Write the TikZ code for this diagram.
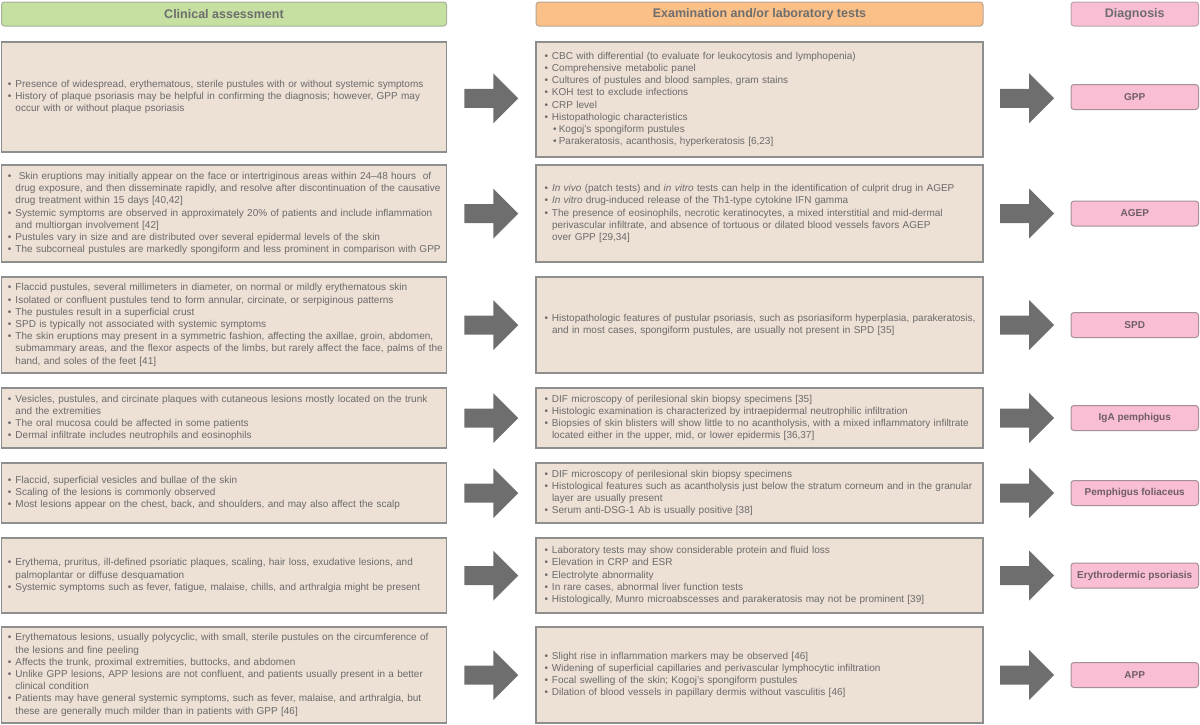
\documentclass[tikz,border=0pt]{standalone}
\usepackage{fontspec}
\setmainfont{Liberation Sans}
\usetikzlibrary{calc}

\definecolor{boxfill}{HTML}{EDE0D4}
\definecolor{boxline}{HTML}{8E8E8E}
\definecolor{txtgray}{HTML}{6B6B6B}
\definecolor{headtxt}{HTML}{6E6E6E}
\definecolor{headgreen}{HTML}{C5E0A0}
\definecolor{headorange}{HTML}{FBC087}
\definecolor{diagpink}{HTML}{F9BDD4}
\definecolor{diagtxt}{HTML}{6E5E66}
\definecolor{arrowgray}{HTML}{6E6E6E}

% bullets with manual line breaks
\newlength\bulind
\newcommand\bl{\hspace*{\bulind}\makebox[7.5pt][l]{•}}
\newcommand\ind{\hspace*{\bulind}\hspace*{7.5pt}}
\newcommand\sbl{\hspace*{\bulind}\hspace*{8.7pt}\makebox[5.6pt][l]{•}}

\tikzset{
  headbox/.style={fill=#1, draw=#1!55!black!60, rounded corners=3pt, line width=1pt,
    minimum height=24pt, inner sep=0pt, text=headtxt,
    font=\fontsize{12.5}{15}\selectfont\bfseries},
  infobox/.style={fill=boxfill, draw=boxline, line width=1.2pt, inner xsep=2pt,
    inner ysep=2pt, align=left, text=txtgray, font=\fontsize{10}{12.2}\selectfont},
  leftbox/.style={infobox, text width=441pt, execute at begin node={\setlength\bulind{4.5pt}}},
  midbox/.style={infobox, text width=443pt, execute at begin node={\setlength\bulind{6.5pt}}},
  diagbox/.style={fill=diagpink, draw=diagpink!50!black!70, rounded corners=3pt, line width=1pt,
    minimum width=127.5pt, minimum height=25pt, inner sep=0pt, text=diagtxt,
    font=\fontsize{10}{12}\selectfont\bfseries},
  fatarrow/.pic={\fill[arrowgray] (-27,-9.5) -- (2,-9.5) -- (2,-25) -- (27,0) -- (2,25)
    -- (2,9.5) -- (-27,9.5) -- cycle;}
}

\begin{document}
\begin{tikzpicture}[x=1pt,y=-1pt]
\useasboundingbox (0,0) rectangle (1200,724);

% column heads
\node[headbox=headgreen, minimum width=445pt] (hclin) at (224,14) {Clinical assessment};
\node[headbox=headorange, minimum width=447pt] (hexam) at (759.5,14) {Examination and/or laboratory tests};
\node[headbox=diagpink, minimum width=127.5pt] (hdiag) at (1134.75,14) {Diagnosis};

% GPP
\node[leftbox, minimum height=110pt] (l1) at (224,97) {%
\bl Presence of widespread, erythematous, sterile pustules with or without systemic symptoms\\
\bl History of plaque psoriasis may be helpful in confirming the diagnosis; however, GPP may\\
\ind occur with or without plaque psoriasis};
\node[midbox, minimum height=115pt] (m1) at (759.5,99.5) {%
\bl CBC with differential (to evaluate for leukocytosis and lymphopenia)\\
\bl Comprehensive metabolic panel\\
\bl Cultures of pustules and blood samples, gram stains\\
\bl KOH test to exclude infections\\
\bl CRP level\\
\bl Histopathologic characteristics\\
\sbl Kogoj’s spongiform pustules\\
\sbl Parakeratosis, acanthosis, hyperkeratosis [6,23]};
\node[diagbox] (d1) at (1134.75,97) {GPP};

% AGEP
\node[leftbox, minimum height=97pt] (l2) at (224,213.5) {%
\bl~Skin eruptions may initially appear on the face or intertriginous areas within 24–48 hours~ of\\
\ind drug exposure, and then disseminate rapidly, and resolve after discontinuation of the causative\\
\ind drug treatment within 15 days [40,42]\\
\bl Systemic symptoms are observed in approximately 20\% of patients and include inflammation\\
\ind and multiorgan involvement [42]\\
\bl Pustules vary in size and are distributed over several epidermal levels of the skin\\
\bl The subcorneal pustules are markedly spongiform and less prominent in comparison with GPP};
\node[midbox, minimum height=97pt] (m2) at (759.5,213.5) {%
\bl \textit{In vivo} (patch tests) and \textit{in vitro} tests can help in the identification of culprit drug in AGEP\\
\bl \textit{In vitro} drug-induced release of the Th1-type cytokine IFN gamma\\
\bl The presence of eosinophils, necrotic keratinocytes, a mixed interstitial and mid-dermal\\
\ind perivascular infiltrate, and absence of tortuous or dilated blood vessels favors AGEP\\
\ind over GPP [29,34]};
\node[diagbox] (d2) at (1134.75,213.5) {AGEP};

% SPD
\node[leftbox, minimum height=96pt] (l3) at (224,325) {%
\bl Flaccid pustules, several millimeters in diameter, on normal or mildly erythematous skin\\
\bl Isolated or confluent pustules tend to form annular, circinate, or serpiginous patterns\\
\bl The pustules result in a superficial crust\\
\bl SPD is typically not associated with systemic symptoms\\
\bl The skin eruptions may present in a symmetric fashion, affecting the axillae, groin, abdomen,\\
\ind submammary areas, and the flexor aspects of the limbs, but rarely affect the face, palms of the\\
\ind hand, and soles of the feet [41]};
\node[midbox, minimum height=96pt] (m3) at (759.5,325) {%
\bl Histopathologic features of pustular psoriasis, such as psoriasiform hyperplasia, parakeratosis,\\
\ind and in most cases, spongiform pustules, are usually not present in SPD [35]};
\node[diagbox] (d3) at (1134.75,325) {SPD};

% IgA pemphigus
\node[leftbox, minimum height=60pt] (l4) at (224,418) {%
\bl Vesicles, pustules, and circinate plaques with cutaneous lesions mostly located on the trunk\\
\ind and the extremities\\
\bl The oral mucosa could be affected in some patients\\
\bl Dermal infiltrate includes neutrophils and eosinophils};
\node[midbox, minimum height=60pt] (m4) at (759.5,418) {%
\bl DIF microscopy of perilesional skin biopsy specimens [35]\\
\bl Histologic examination is characterized by intraepidermal neutrophilic infiltration\\
\bl Biopsies of skin blisters will show little to no acantholysis, with a mixed inflammatory infiltrate\\
\ind located either in the upper, mid, or lower epidermis [36,37]};
\node[diagbox] (d4) at (1134.75,418) {IgA pemphigus};

% Pemphigus foliaceus
\node[leftbox, minimum height=60pt] (l5) at (224,493) {%
\bl Flaccid, superficial vesicles and bullae of the skin\\
\bl Scaling of the lesions is commonly observed\\
\bl Most lesions appear on the chest, back, and shoulders, and may also affect the scalp};
\node[midbox, minimum height=60pt] (m5) at (759.5,493) {%
\bl DIF microscopy of perilesional skin biopsy specimens\\
\bl Histological features such as acantholysis just below the stratum corneum and in the granular\\
\ind layer are usually present\\
\bl Serum anti-DSG-1 Ab is usually positive [38]};
\node[diagbox] (d5) at (1134.75,493) {Pemphigus foliaceus};

% Erythrodermic psoriasis
\node[leftbox, minimum height=75pt] (l6) at (224,575.5) {%
\bl Erythema, pruritus, ill-defined psoriatic plaques, scaling, hair loss, exudative lesions, and\\
\ind palmoplantar or diffuse desquamation\\
\bl Systemic symptoms such as fever, fatigue, malaise, chills, and arthralgia might be present};
\node[midbox, minimum height=75pt] (m6) at (759.5,575.5) {%
\bl Laboratory tests may show considerable protein and fluid loss\\
\bl Elevation in CRP and ESR\\
\bl Electrolyte abnormality\\
\bl In rare cases, abnormal liver function tests\\
\bl Histologically, Munro microabscesses and parakeratosis may not be prominent [39]};
\node[diagbox] (d6) at (1134.75,575.5) {Erythrodermic psoriasis};

% APP
\node[leftbox, minimum height=96pt] (l7) at (224,675) {%
\bl Erythematous lesions, usually polycyclic, with small, sterile pustules on the circumference of\\
\ind the lesions and fine peeling\\
\bl Affects the trunk, proximal extremities, buttocks, and abdomen\\
\bl Unlike GPP lesions, APP lesions are not confluent, and patients usually present in a better\\
\ind clinical condition\\
\bl Patients may have general systemic symptoms, such as fever, malaise, and arthralgia, but\\
\ind these are generally much milder than in patients with GPP [46]};
\node[midbox, minimum height=96pt] (m7) at (759.5,675) {%
\bl Slight rise in inflammation markers may be observed [46]\\
\bl Widening of superficial capillaries and perivascular lymphocytic infiltration\\
\bl Focal swelling of the skin; Kogoj’s spongiform pustules\\
\bl Dilation of blood vessels in papillary dermis without vasculitis [46]};
\node[diagbox] (d7) at (1134.75,675) {APP};

% block arrows between the columns
\foreach \i in {1,...,7} {
  \pic at ($(l\i.east)!0.5!(m\i.west)$) {fatarrow};
  \pic at ($(m\i.east)!0.5!(d\i.west)$) {fatarrow};
}
\end{tikzpicture}
\end{document}
